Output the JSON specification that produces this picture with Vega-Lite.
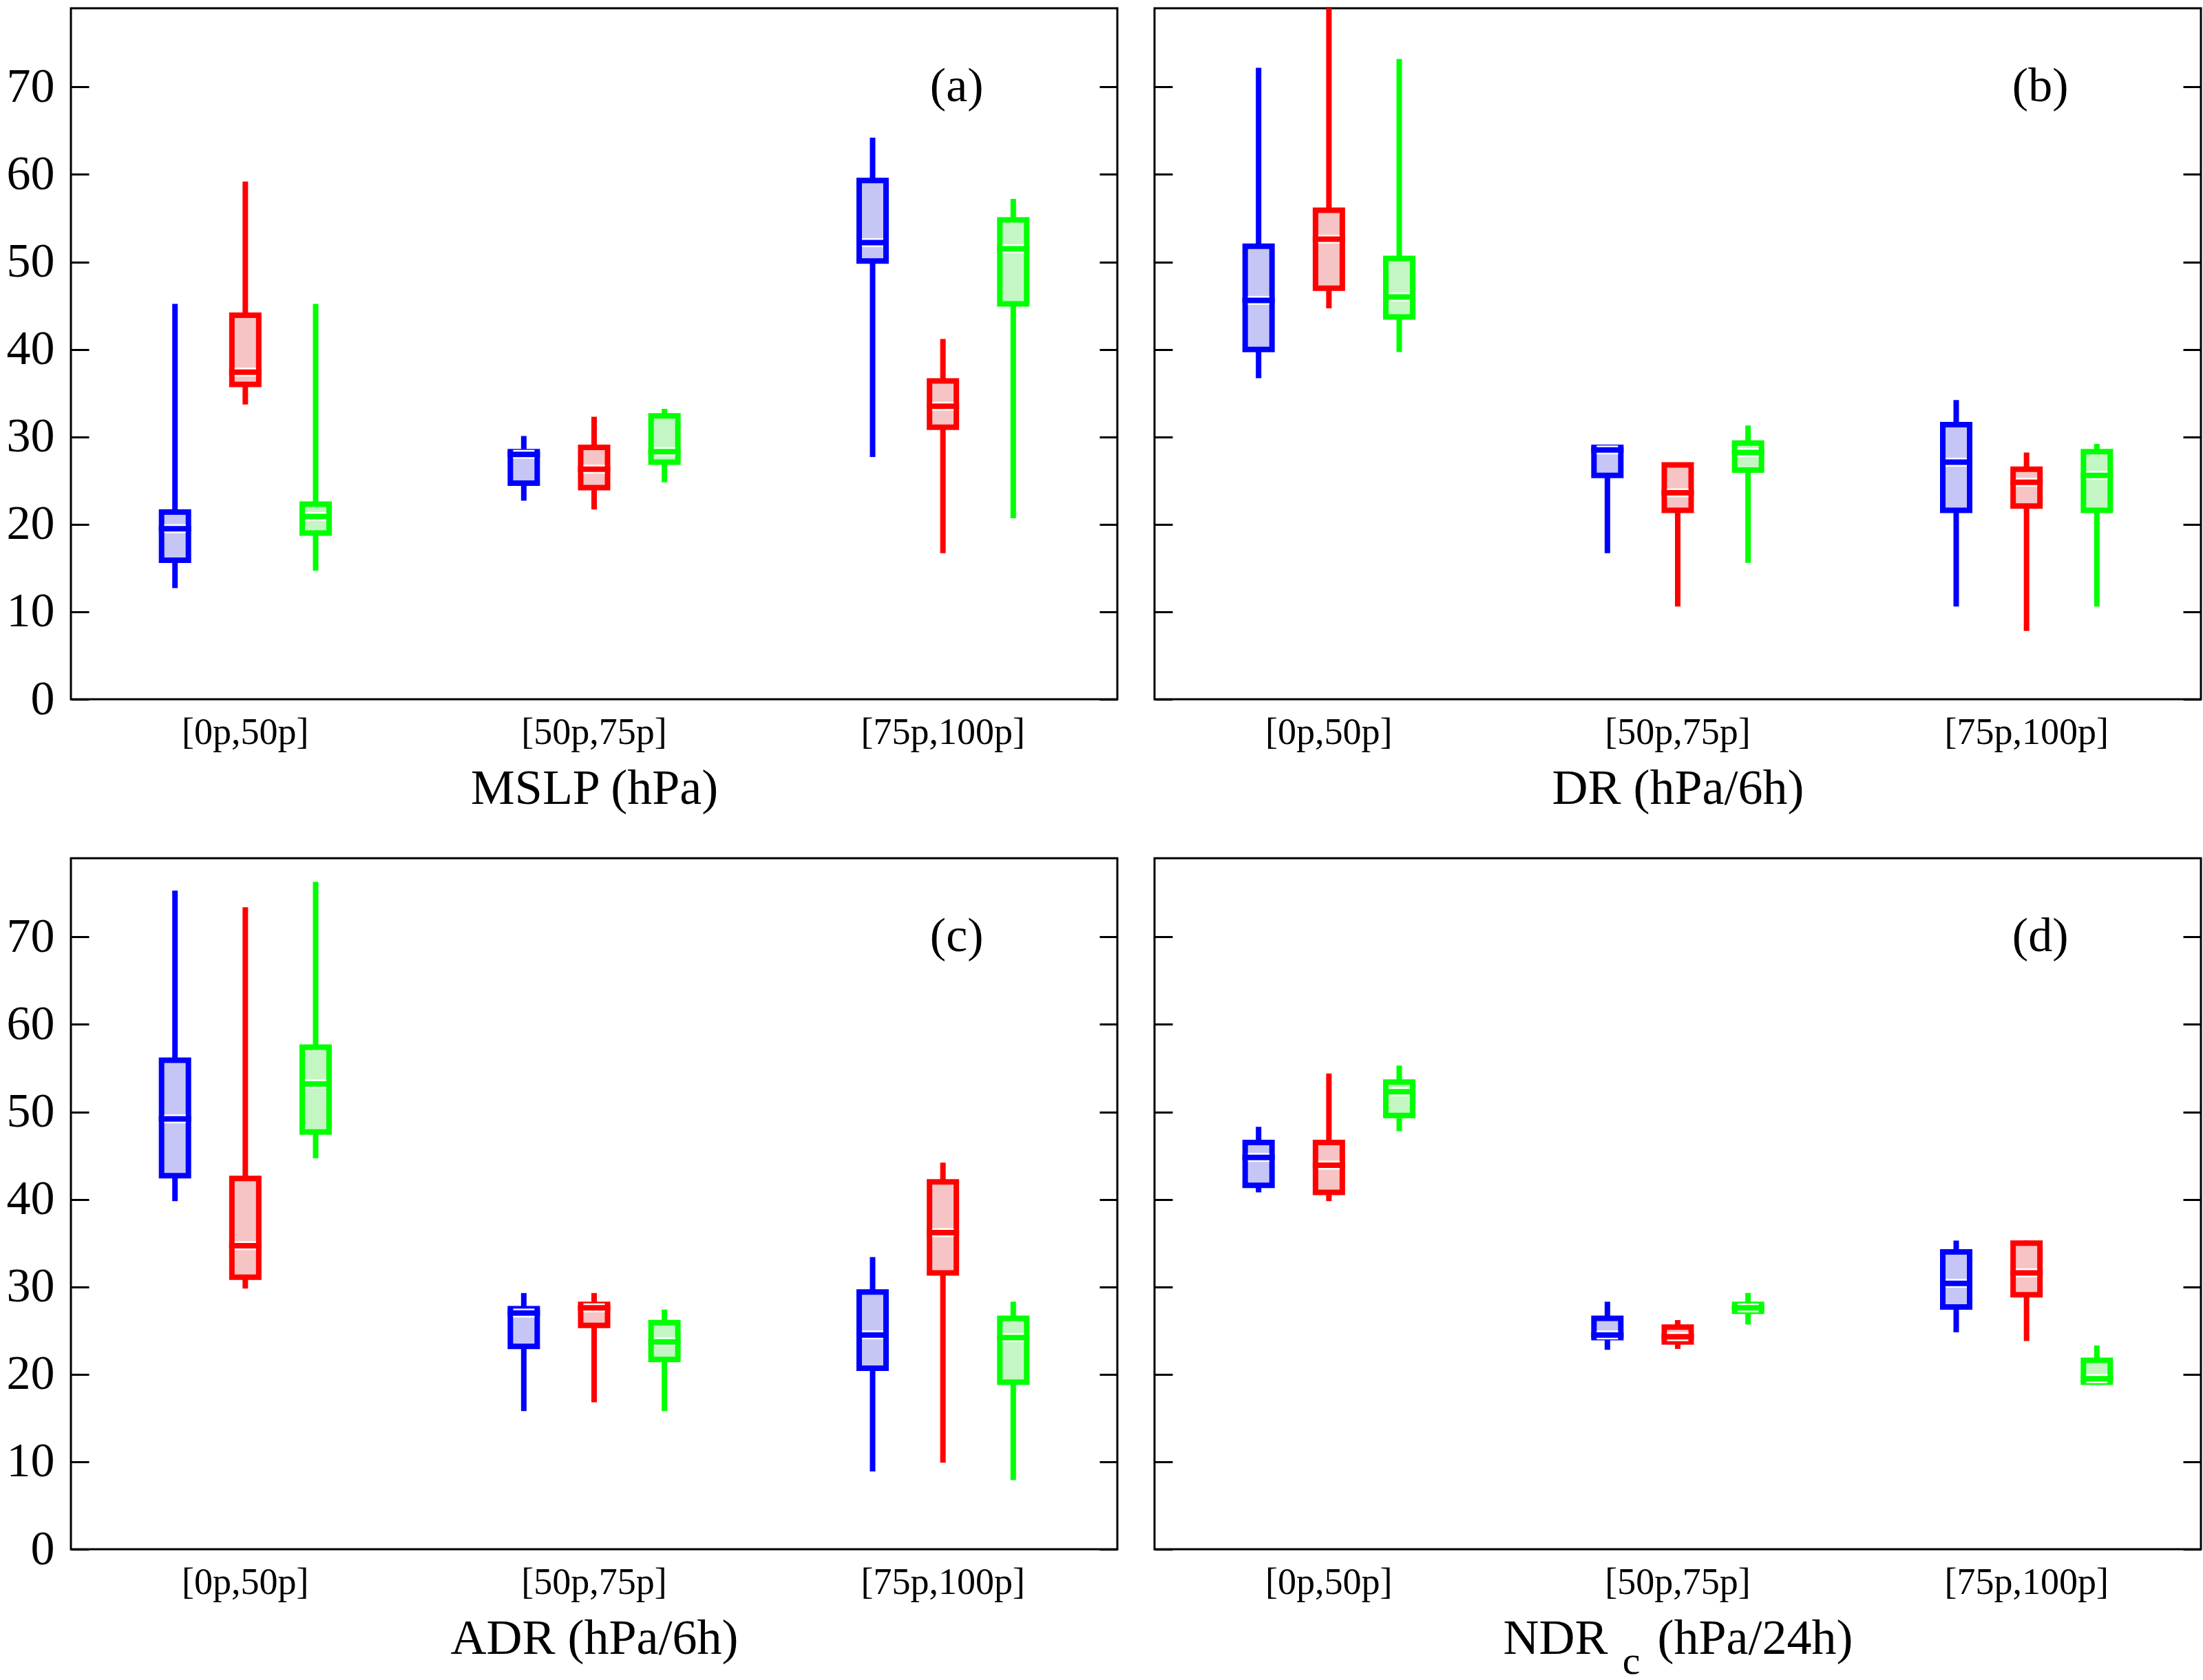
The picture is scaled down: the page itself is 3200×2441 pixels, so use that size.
{
"$schema":"https://vega.github.io/schema/vega-lite/v6.json",
"background":"white",
"padding":{"left":7,"top":6,"right":5,"bottom":5},
"config":{"font":"Liberation Serif","view":{"stroke":"#000","strokeWidth":3},
"axis":{"labelFont":"Liberation Serif","titleFont":"Liberation Serif","labelColor":"#000","titleColor":"#000","tickColor":"#000","titleFontWeight":"normal","grid":false,"domain":false,"labelLimit":0},
"text":{"font":"Liberation Serif"}},
"datasets":{
"box":[
{"panel":"a","cat":"[0p,50p]","series":"blue","lo":12.7,"q1":15.9,"med":19.5,"q3":21.4,"hi":45.2},
{"panel":"a","cat":"[0p,50p]","series":"red","lo":33.7,"q1":36.0,"med":37.4,"q3":43.9,"hi":59.2},
{"panel":"a","cat":"[0p,50p]","series":"green","lo":14.7,"q1":19.0,"med":20.9,"q3":22.3,"hi":45.2},
{"panel":"a","cat":"[50p,75p]","series":"blue","lo":22.7,"q1":24.7,"med":28.0,"q3":28.3,"hi":30.1},
{"panel":"a","cat":"[50p,75p]","series":"red","lo":21.7,"q1":24.2,"med":26.3,"q3":28.8,"hi":32.3},
{"panel":"a","cat":"[50p,75p]","series":"green","lo":24.8,"q1":27.1,"med":28.3,"q3":32.4,"hi":33.2},
{"panel":"a","cat":"[75p,100p]","series":"blue","lo":27.7,"q1":50.1,"med":52.2,"q3":59.3,"hi":64.2},
{"panel":"a","cat":"[75p,100p]","series":"red","lo":16.7,"q1":31.1,"med":33.5,"q3":36.4,"hi":41.2},
{"panel":"a","cat":"[75p,100p]","series":"green","lo":20.7,"q1":45.2,"med":51.5,"q3":54.8,"hi":57.2},
{"panel":"b","cat":"[0p,50p]","series":"blue","lo":36.7,"q1":40.0,"med":45.6,"q3":51.8,"hi":72.2},
{"panel":"b","cat":"[0p,50p]","series":"red","lo":44.7,"q1":47.0,"med":52.6,"q3":55.9,"hi":79.0},
{"panel":"b","cat":"[0p,50p]","series":"green","lo":39.7,"q1":43.7,"med":46.0,"q3":50.4,"hi":73.2},
{"panel":"b","cat":"[50p,75p]","series":"blue","lo":16.7,"q1":25.6,"med":28.5,"q3":28.8,"hi":29.1},
{"panel":"b","cat":"[50p,75p]","series":"red","lo":10.6,"q1":21.6,"med":23.6,"q3":26.8,"hi":27.0},
{"panel":"b","cat":"[50p,75p]","series":"green","lo":15.6,"q1":26.2,"med":28.2,"q3":29.3,"hi":31.3},
{"panel":"b","cat":"[75p,100p]","series":"blue","lo":10.6,"q1":21.6,"med":27.1,"q3":31.4,"hi":34.2},
{"panel":"b","cat":"[75p,100p]","series":"red","lo":7.8,"q1":22.1,"med":24.8,"q3":26.3,"hi":28.2},
{"panel":"b","cat":"[75p,100p]","series":"green","lo":10.6,"q1":21.6,"med":25.6,"q3":28.3,"hi":29.2},
{"panel":"c","cat":"[0p,50p]","series":"blue","lo":39.8,"q1":42.7,"med":49.2,"q3":55.9,"hi":75.3},
{"panel":"c","cat":"[0p,50p]","series":"red","lo":29.8,"q1":31.1,"med":34.7,"q3":42.4,"hi":73.4},
{"panel":"c","cat":"[0p,50p]","series":"green","lo":44.7,"q1":47.7,"med":53.2,"q3":57.4,"hi":76.3},
{"panel":"c","cat":"[50p,75p]","series":"blue","lo":15.8,"q1":23.2,"med":27.0,"q3":27.5,"hi":29.3},
{"panel":"c","cat":"[50p,75p]","series":"red","lo":16.8,"q1":25.6,"med":27.6,"q3":28.0,"hi":29.3},
{"panel":"c","cat":"[50p,75p]","series":"green","lo":15.8,"q1":21.7,"med":23.7,"q3":25.9,"hi":27.4},
{"panel":"c","cat":"[75p,100p]","series":"blue","lo":8.9,"q1":20.7,"med":24.5,"q3":29.4,"hi":33.4},
{"panel":"c","cat":"[75p,100p]","series":"red","lo":9.9,"q1":31.6,"med":36.2,"q3":42.0,"hi":44.2},
{"panel":"c","cat":"[75p,100p]","series":"green","lo":7.9,"q1":19.1,"med":24.2,"q3":26.4,"hi":28.3},
{"panel":"d","cat":"[0p,50p]","series":"blue","lo":40.8,"q1":41.6,"med":44.8,"q3":46.5,"hi":48.3},
{"panel":"d","cat":"[0p,50p]","series":"red","lo":39.8,"q1":40.8,"med":43.9,"q3":46.5,"hi":54.4},
{"panel":"d","cat":"[0p,50p]","series":"green","lo":47.8,"q1":49.6,"med":52.3,"q3":53.4,"hi":55.3},
{"panel":"d","cat":"[50p,75p]","series":"blue","lo":22.8,"q1":24.2,"med":24.5,"q3":26.4,"hi":28.3},
{"panel":"d","cat":"[50p,75p]","series":"red","lo":22.9,"q1":23.7,"med":24.3,"q3":25.4,"hi":26.2},
{"panel":"d","cat":"[50p,75p]","series":"green","lo":25.7,"q1":27.2,"med":27.6,"q3":28.0,"hi":29.3},
{"panel":"d","cat":"[75p,100p]","series":"blue","lo":24.8,"q1":27.7,"med":30.4,"q3":34.0,"hi":35.3},
{"panel":"d","cat":"[75p,100p]","series":"red","lo":23.8,"q1":29.1,"med":31.6,"q3":35.0,"hi":35.3},
{"panel":"d","cat":"[75p,100p]","series":"green","lo":18.8,"q1":19.1,"med":19.5,"q3":21.6,"hi":23.3}
],
"labels":[
{"panel":"a","lab":"(a)","cat":"[75p,100p]","yv":70},
{"panel":"b","lab":"(b)","cat":"[75p,100p]","yv":70},
{"panel":"c","lab":"(c)","cat":"[75p,100p]","yv":70},
{"panel":"d","lab":"(d)","cat":"[75p,100p]","yv":70}
]},
"columns":2,
"spacing":{"row":62,"column":48},
"concat":[
{"width":1520,"height":1004,"data":{"name":"box"},"transform":[{"filter":"datum.panel === 'a'"}],
"layer":[
{"mark":{"type":"rule","strokeWidth":8,"strokeCap":"butt"},
"encoding":{"x":{"field":"cat","type":"nominal","sort":["[0p,50p]","[50p,75p]","[75p,100p]"],"scale":{"paddingInner":0,"paddingOuter":0},"axis":{"orient":"bottom","title":"MSLP (hPa)","titleFontSize":72,"labelFontSize":54,"ticks":false,"labelPadding":21,"labelAngle":0,"titleBaseline":"alphabetic","titleY":151}},
"xOffset":{"field":"series","type":"nominal","sort":["blue","red","green"],"scale":{"paddingInner":0,"paddingOuter":0.98}},
"y":{"field":"lo","type":"quantitative","scale":{"domain":[0,79],"nice":false,"zero":false},"axis":{"orient":"left","values":[0,10,20,30,40,50,60,70],"labelFontSize":70,"tickSize":-26,"tickWidth":3,"labelPadding":50,"title":null}},
"y2":{"field":"hi"},
"color":{"field":"series","type":"nominal","scale":{"domain":["blue","red","green"],"range":["#0000ff","#ff0000","#00ff00"]},"legend":null}}},
{"mark":{"type":"bar","size":39,"strokeWidth":8},
"encoding":{"x":{"field":"cat","type":"nominal","sort":["[0p,50p]","[50p,75p]","[75p,100p]"],"axis":null},
"xOffset":{"field":"series","type":"nominal","sort":["blue","red","green"]},
"y":{"field":"q1","type":"quantitative","scale":{"domain":[0,79],"nice":false,"zero":false},"axis":null},
"y2":{"field":"q3"},
"fill":{"field":"series","type":"nominal","scale":{"domain":["blue","red","green"],"range":["#c6c6f6","#f6c4c4","#c4f6c4"]},"legend":null},
"stroke":{"field":"series","type":"nominal","scale":{"domain":["blue","red","green"],"range":["#0000ff","#ff0000","#00ff00"]},"legend":null}}},
{"mark":{"type":"tick","color":"white","thickness":13,"size":31,"opacity":1},
"encoding":{"x":{"field":"cat","type":"nominal","sort":["[0p,50p]","[50p,75p]","[75p,100p]"],"axis":null},
"xOffset":{"field":"series","type":"nominal","sort":["blue","red","green"]},
"y":{"field":"med","type":"quantitative","scale":{"domain":[0,79],"nice":false,"zero":false},"axis":null}}},
{"mark":{"type":"tick","thickness":8,"size":47,"opacity":1},
"encoding":{"x":{"field":"cat","type":"nominal","sort":["[0p,50p]","[50p,75p]","[75p,100p]"],"axis":null},
"xOffset":{"field":"series","type":"nominal","sort":["blue","red","green"]},
"y":{"field":"med","type":"quantitative","scale":{"domain":[0,79],"nice":false,"zero":false},"axis":null},
"color":{"field":"series","type":"nominal","legend":null}}},
{"data":{"name":"labels"},"transform":[{"filter":"datum.panel === 'a'"}],
"mark":{"type":"text","fontSize":70,"dx":20},
"encoding":{"x":{"field":"cat","type":"nominal","sort":["[0p,50p]","[50p,75p]","[75p,100p]"],"axis":null},
"y":{"field":"yv","type":"quantitative","scale":{"domain":[0,79],"nice":false,"zero":false},"axis":{"orient":"right","values":[0,10,20,30,40,50,60,70],"labels":false,"tickSize":-26,"tickWidth":3,"title":null}},
"text":{"field":"lab"}}}
],
"resolve":{"axis":{"y":"independent","x":"independent"}}},

{"width":1520,"height":1004,"data":{"name":"box"},"transform":[{"filter":"datum.panel === 'b'"}],
"layer":[
{"mark":{"type":"rule","strokeWidth":8,"strokeCap":"butt"},
"encoding":{"x":{"field":"cat","type":"nominal","sort":["[0p,50p]","[50p,75p]","[75p,100p]"],"scale":{"paddingInner":0,"paddingOuter":0},"axis":{"orient":"bottom","title":"DR (hPa/6h)","titleFontSize":72,"labelFontSize":54,"ticks":false,"labelPadding":21,"labelAngle":0,"titleBaseline":"alphabetic","titleY":151}},
"xOffset":{"field":"series","type":"nominal","sort":["blue","red","green"],"scale":{"paddingInner":0,"paddingOuter":0.98}},
"y":{"field":"lo","type":"quantitative","scale":{"domain":[0,79],"nice":false,"zero":false},"axis":{"orient":"left","values":[0,10,20,30,40,50,60,70],"labels":false,"tickSize":-26,"tickWidth":3,"title":null}},
"y2":{"field":"hi"},
"color":{"field":"series","type":"nominal","scale":{"domain":["blue","red","green"],"range":["#0000ff","#ff0000","#00ff00"]},"legend":null}}},
{"mark":{"type":"bar","size":39,"strokeWidth":8},
"encoding":{"x":{"field":"cat","type":"nominal","sort":["[0p,50p]","[50p,75p]","[75p,100p]"],"axis":null},
"xOffset":{"field":"series","type":"nominal","sort":["blue","red","green"]},
"y":{"field":"q1","type":"quantitative","scale":{"domain":[0,79],"nice":false,"zero":false},"axis":null},
"y2":{"field":"q3"},
"fill":{"field":"series","type":"nominal","scale":{"domain":["blue","red","green"],"range":["#c6c6f6","#f6c4c4","#c4f6c4"]},"legend":null},
"stroke":{"field":"series","type":"nominal","scale":{"domain":["blue","red","green"],"range":["#0000ff","#ff0000","#00ff00"]},"legend":null}}},
{"mark":{"type":"tick","color":"white","thickness":13,"size":31,"opacity":1},
"encoding":{"x":{"field":"cat","type":"nominal","sort":["[0p,50p]","[50p,75p]","[75p,100p]"],"axis":null},
"xOffset":{"field":"series","type":"nominal","sort":["blue","red","green"]},
"y":{"field":"med","type":"quantitative","scale":{"domain":[0,79],"nice":false,"zero":false},"axis":null}}},
{"mark":{"type":"tick","thickness":8,"size":47,"opacity":1},
"encoding":{"x":{"field":"cat","type":"nominal","sort":["[0p,50p]","[50p,75p]","[75p,100p]"],"axis":null},
"xOffset":{"field":"series","type":"nominal","sort":["blue","red","green"]},
"y":{"field":"med","type":"quantitative","scale":{"domain":[0,79],"nice":false,"zero":false},"axis":null},
"color":{"field":"series","type":"nominal","legend":null}}},
{"data":{"name":"labels"},"transform":[{"filter":"datum.panel === 'b'"}],
"mark":{"type":"text","fontSize":70,"dx":20},
"encoding":{"x":{"field":"cat","type":"nominal","sort":["[0p,50p]","[50p,75p]","[75p,100p]"],"axis":null},
"y":{"field":"yv","type":"quantitative","scale":{"domain":[0,79],"nice":false,"zero":false},"axis":{"orient":"right","values":[0,10,20,30,40,50,60,70],"labels":false,"tickSize":-26,"tickWidth":3,"title":null}},
"text":{"field":"lab"}}}
],
"resolve":{"axis":{"y":"independent","x":"independent"}}},

{"width":1520,"height":1004,"data":{"name":"box"},"transform":[{"filter":"datum.panel === 'c'"}],
"layer":[
{"mark":{"type":"rule","strokeWidth":8,"strokeCap":"butt"},
"encoding":{"x":{"field":"cat","type":"nominal","sort":["[0p,50p]","[50p,75p]","[75p,100p]"],"scale":{"paddingInner":0,"paddingOuter":0},"axis":{"orient":"bottom","title":"ADR (hPa/6h)","titleFontSize":72,"labelFontSize":54,"ticks":false,"labelPadding":21,"labelAngle":0,"titleBaseline":"alphabetic","titleY":151}},
"xOffset":{"field":"series","type":"nominal","sort":["blue","red","green"],"scale":{"paddingInner":0,"paddingOuter":0.98}},
"y":{"field":"lo","type":"quantitative","scale":{"domain":[0,79],"nice":false,"zero":false},"axis":{"orient":"left","values":[0,10,20,30,40,50,60,70],"labelFontSize":70,"tickSize":-26,"tickWidth":3,"labelPadding":50,"title":null}},
"y2":{"field":"hi"},
"color":{"field":"series","type":"nominal","scale":{"domain":["blue","red","green"],"range":["#0000ff","#ff0000","#00ff00"]},"legend":null}}},
{"mark":{"type":"bar","size":39,"strokeWidth":8},
"encoding":{"x":{"field":"cat","type":"nominal","sort":["[0p,50p]","[50p,75p]","[75p,100p]"],"axis":null},
"xOffset":{"field":"series","type":"nominal","sort":["blue","red","green"]},
"y":{"field":"q1","type":"quantitative","scale":{"domain":[0,79],"nice":false,"zero":false},"axis":null},
"y2":{"field":"q3"},
"fill":{"field":"series","type":"nominal","scale":{"domain":["blue","red","green"],"range":["#c6c6f6","#f6c4c4","#c4f6c4"]},"legend":null},
"stroke":{"field":"series","type":"nominal","scale":{"domain":["blue","red","green"],"range":["#0000ff","#ff0000","#00ff00"]},"legend":null}}},
{"mark":{"type":"tick","color":"white","thickness":13,"size":31,"opacity":1},
"encoding":{"x":{"field":"cat","type":"nominal","sort":["[0p,50p]","[50p,75p]","[75p,100p]"],"axis":null},
"xOffset":{"field":"series","type":"nominal","sort":["blue","red","green"]},
"y":{"field":"med","type":"quantitative","scale":{"domain":[0,79],"nice":false,"zero":false},"axis":null}}},
{"mark":{"type":"tick","thickness":8,"size":47,"opacity":1},
"encoding":{"x":{"field":"cat","type":"nominal","sort":["[0p,50p]","[50p,75p]","[75p,100p]"],"axis":null},
"xOffset":{"field":"series","type":"nominal","sort":["blue","red","green"]},
"y":{"field":"med","type":"quantitative","scale":{"domain":[0,79],"nice":false,"zero":false},"axis":null},
"color":{"field":"series","type":"nominal","legend":null}}},
{"data":{"name":"labels"},"transform":[{"filter":"datum.panel === 'c'"}],
"mark":{"type":"text","fontSize":70,"dx":20},
"encoding":{"x":{"field":"cat","type":"nominal","sort":["[0p,50p]","[50p,75p]","[75p,100p]"],"axis":null},
"y":{"field":"yv","type":"quantitative","scale":{"domain":[0,79],"nice":false,"zero":false},"axis":{"orient":"right","values":[0,10,20,30,40,50,60,70],"labels":false,"tickSize":-26,"tickWidth":3,"title":null}},
"text":{"field":"lab"}}}
],
"resolve":{"axis":{"y":"independent","x":"independent"}}},

{"width":1520,"height":1004,"data":{"name":"box"},"transform":[{"filter":"datum.panel === 'd'"}],
"layer":[
{"mark":{"type":"rule","strokeWidth":8,"strokeCap":"butt"},
"encoding":{"x":{"field":"cat","type":"nominal","sort":["[0p,50p]","[50p,75p]","[75p,100p]"],"scale":{"paddingInner":0,"paddingOuter":0},"axis":{"orient":"bottom","title":"NDR\u2002\u2002(hPa/24h)","titleFontSize":72,"labelFontSize":54,"ticks":false,"labelPadding":21,"labelAngle":0,"titleBaseline":"alphabetic","titleY":151}},
"xOffset":{"field":"series","type":"nominal","sort":["blue","red","green"],"scale":{"paddingInner":0,"paddingOuter":0.98}},
"y":{"field":"lo","type":"quantitative","scale":{"domain":[0,79],"nice":false,"zero":false},"axis":{"orient":"left","values":[0,10,20,30,40,50,60,70],"labels":false,"tickSize":-26,"tickWidth":3,"title":null}},
"y2":{"field":"hi"},
"color":{"field":"series","type":"nominal","scale":{"domain":["blue","red","green"],"range":["#0000ff","#ff0000","#00ff00"]},"legend":null}}},
{"mark":{"type":"bar","size":39,"strokeWidth":8},
"encoding":{"x":{"field":"cat","type":"nominal","sort":["[0p,50p]","[50p,75p]","[75p,100p]"],"axis":null},
"xOffset":{"field":"series","type":"nominal","sort":["blue","red","green"]},
"y":{"field":"q1","type":"quantitative","scale":{"domain":[0,79],"nice":false,"zero":false},"axis":null},
"y2":{"field":"q3"},
"fill":{"field":"series","type":"nominal","scale":{"domain":["blue","red","green"],"range":["#c6c6f6","#f6c4c4","#c4f6c4"]},"legend":null},
"stroke":{"field":"series","type":"nominal","scale":{"domain":["blue","red","green"],"range":["#0000ff","#ff0000","#00ff00"]},"legend":null}}},
{"mark":{"type":"tick","color":"white","thickness":13,"size":31,"opacity":1},
"encoding":{"x":{"field":"cat","type":"nominal","sort":["[0p,50p]","[50p,75p]","[75p,100p]"],"axis":null},
"xOffset":{"field":"series","type":"nominal","sort":["blue","red","green"]},
"y":{"field":"med","type":"quantitative","scale":{"domain":[0,79],"nice":false,"zero":false},"axis":null}}},
{"mark":{"type":"tick","thickness":8,"size":47,"opacity":1},
"encoding":{"x":{"field":"cat","type":"nominal","sort":["[0p,50p]","[50p,75p]","[75p,100p]"],"axis":null},
"xOffset":{"field":"series","type":"nominal","sort":["blue","red","green"]},
"y":{"field":"med","type":"quantitative","scale":{"domain":[0,79],"nice":false,"zero":false},"axis":null},
"color":{"field":"series","type":"nominal","legend":null}}},
{"data":{"name":"labels"},"transform":[{"filter":"datum.panel === 'd'"}],
"mark":{"type":"text","fontSize":70,"dx":20},
"encoding":{"x":{"field":"cat","type":"nominal","sort":["[0p,50p]","[50p,75p]","[75p,100p]"],"axis":{"orient":"bottom","title":"c","titleFontSize":58,"labels":false,"ticks":false,"titleX":692,"titleY":180,"titleBaseline":"alphabetic","titleAlign":"center"}},
"y":{"field":"yv","type":"quantitative","scale":{"domain":[0,79],"nice":false,"zero":false},"axis":{"orient":"right","values":[0,10,20,30,40,50,60,70],"labels":false,"tickSize":-26,"tickWidth":3,"title":null}},
"text":{"field":"lab"}}}
],
"resolve":{"axis":{"y":"independent","x":"independent"}}}
]
}
